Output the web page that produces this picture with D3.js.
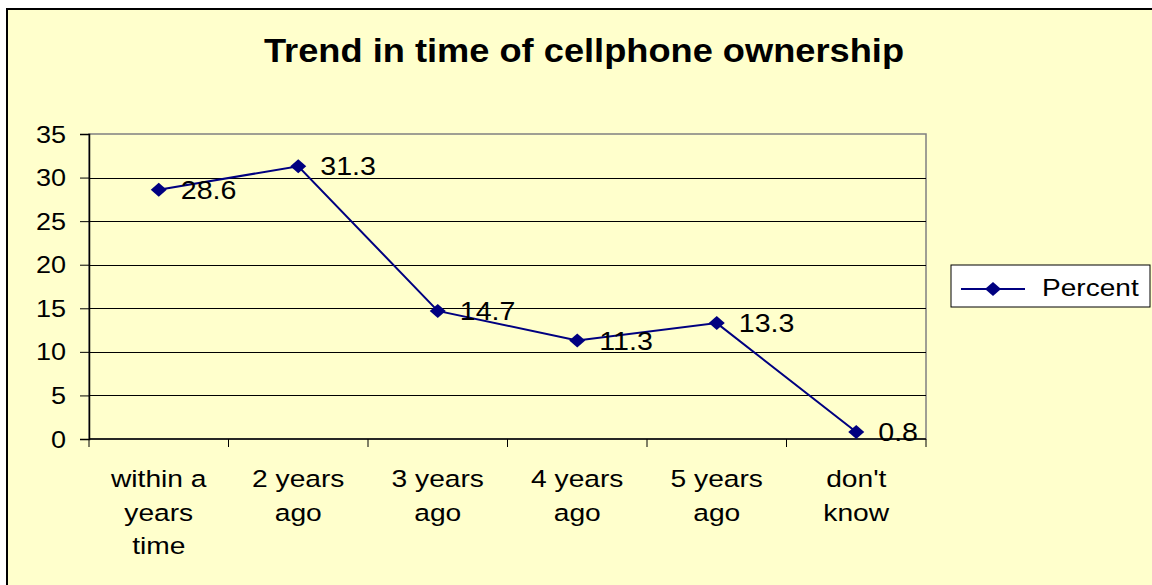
<!DOCTYPE html>
<html>
<head>
<meta charset="utf-8">
<script src="https://cdn.jsdelivr.net/npm/d3@7"></script>
<style>
  html, body { margin: 0; padding: 0; background: #ffffff; }
  svg { display: block; }
  text { font-family: "Liberation Sans", Arial, sans-serif; fill: #000; }
</style>
</head>
<body>
<svg id="chart" width="1152" height="585"></svg>
<script>
const title = "Trend in time of cellphone ownership";
const categories = ["within a years time", "2 years ago", "3 years ago", "4 years ago", "5 years ago", "don't know"];
const categoryLines = [["within a", "years", "time"], ["2 years", "ago"], ["3 years", "ago"], ["4 years", "ago"], ["5 years", "ago"], ["don't", "know"]];
const percent = [28.6, 31.3, 14.7, 11.3, 13.3, 0.8];
const yTicks = [0, 5, 10, 15, 20, 25, 30, 35];
const seriesName = "Percent";

const svg = d3.select("#chart");
const bg = "#FFFFCC";
const navy = "#000080";

// outer chart area
svg.append("rect").attr("x", 7).attr("y", 9).attr("width", 1300).attr("height", 800)
  .attr("fill", bg).attr("stroke", "#000").attr("stroke-width", 2);

const plot = { left: 89, right: 926, top: 134, bottom: 439 };

const x = d3.scaleBand().domain(categories).range([plot.left, plot.right]).padding(0);
const y = d3.scaleLinear().domain([0, 35]).range([plot.bottom, plot.top]);
const cx = c => x(c) + x.bandwidth() / 2;

function stretchedText(parent, tx, ty, str, size, sx, anchor, weight) {
  const g = parent.append("g").attr("transform", `translate(${tx},${ty}) scale(${sx},1)`);
  return g.append("text").attr("x", 0).attr("y", 0)
    .attr("font-size", size).attr("text-anchor", anchor || "start")
    .attr("font-weight", weight || "normal").text(str);
}

// title
stretchedText(svg, 584, 62, title, 32.5, 1.115, "middle", "bold");

// plot area
svg.append("rect").attr("x", plot.left).attr("y", plot.top)
  .attr("width", plot.right - plot.left).attr("height", plot.bottom - plot.top)
  .attr("fill", bg).attr("stroke", "#808080").attr("stroke-width", 1.5);

// gridlines
svg.append("g").selectAll("line").data(yTicks.filter(t => t > 0 && t < 35)).join("line")
  .attr("x1", plot.left).attr("x2", plot.right)
  .attr("y1", d => Math.round(y(d)) + 0.5).attr("y2", d => Math.round(y(d)) + 0.5)
  .attr("stroke", "#000").attr("stroke-width", 1);

// y axis
const yAxis = svg.append("g").attr("transform", `translate(${plot.left},0)`)
  .call(d3.axisLeft(y).tickValues(yTicks).tickSize(9).tickFormat(() => ""));
yAxis.select(".domain").attr("stroke", "#000").attr("stroke-width", 1.5);
yAxis.selectAll(".tick line").attr("stroke", "#000");
yTicks.forEach(t => {
  stretchedText(svg, 66, y(t) + 8.5, String(t), 23.5, 1.15, "end");
});

// x axis
svg.append("line").attr("x1", plot.left).attr("x2", plot.right)
  .attr("y1", plot.bottom).attr("y2", plot.bottom)
  .attr("stroke", "#000").attr("stroke-width", 1.5);
const boundaries = categories.map(c => x(c)).concat([x(categories[categories.length - 1]) + x.bandwidth()]);
svg.append("g").selectAll("line").data(boundaries).join("line")
  .attr("x1", d => d).attr("x2", d => d)
  .attr("y1", plot.bottom).attr("y2", plot.bottom + 8)
  .attr("stroke", "#000").attr("stroke-width", 1);
categories.forEach((c, i) => {
  categoryLines[i].forEach((ln, j) => {
    stretchedText(svg, cx(c), 487 + j * 33.5, ln, 23.5, 1.2, "middle");
  });
});

// line
const line = d3.line().x((d, i) => cx(categories[i])).y(d => y(d));
svg.append("path").datum(percent).attr("d", line)
  .attr("fill", "none").attr("stroke", navy).attr("stroke-width", 2);

const diamond = (px, py) => `M${px},${py - 7}L${px + 8},${py}L${px},${py + 7}L${px - 8},${py}Z`;
svg.append("g").selectAll("path").data(percent).join("path")
  .attr("d", (d, i) => diamond(cx(categories[i]), y(d)))
  .attr("fill", navy);

// data labels
percent.forEach((v, i) => {
  stretchedText(svg, cx(categories[i]) + 22, y(v) + 9, String(v), 26, 1.1, "start");
});

// legend
const lg = svg.append("g");
lg.append("rect").attr("x", 951).attr("y", 265).attr("width", 199).attr("height", 42)
  .attr("fill", "#fff").attr("stroke", "#000").attr("stroke-width", 1);
lg.append("line").attr("x1", 961).attr("x2", 1025).attr("y1", 289).attr("y2", 289)
  .attr("stroke", navy).attr("stroke-width", 2);
lg.append("path").attr("d", diamond(993, 289)).attr("fill", navy);
stretchedText(lg, 1042, 296, seriesName, 24, 1.17, "start");
</script>
</body>
</html>
